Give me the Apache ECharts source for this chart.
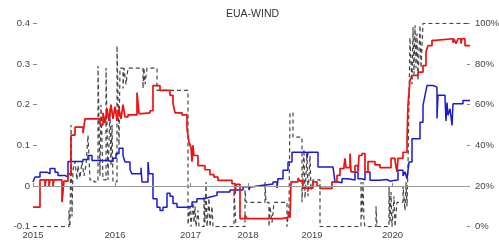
<!DOCTYPE html>
<html>
<head>
<meta charset="utf-8">
<script src="https://cdn.jsdelivr.net/npm/echarts@6/dist/echarts.min.js"></script>
<style>
html,body{margin:0;padding:0;background:#fff;}
#chart{width:499px;height:241px;}
</style>
</head>
<body>
<div id="chart"></div>
<script>
// x = observation index along the sample, steps hold their value until the next point
var yearPos = [0, 82, 157.5, 215, 279, 359.5];
var yearLabels = ['2015', '2016', '2017', '2018', '2019', '2020'];

// EUA-WIND, red line (left axis)
var redSteps = [[0,-0.052],[7,0.015],[12,0.0],[13,0.015],[16,0.0],[17,0.015],[20,0.0],[21,0.015],[29,-0.04],[31,0.012],[35,0.03],[38,0.125],[42,0.145],[50,0.13],[52,0.165],[67,0.15],[70,0.18],[72,0.155],[74,0.19],[76,0.16],[78,0.2],[80,0.165],[82,0.195],[84,0.16],[86,0.19],[88,0.165],[90,0.2],[92,0.17],[95,0.175],[104,0.23],[106,0.178],[109,0.18],[117,0.185],[120,0.247],[127,0.235],[137,0.223],[140,0.203],[142,0.18],[149,0.175],[154,0.14],[156,0.108],[158,0.095],[159,0.06],[160,0.1],[161,0.075],[165,0.05],[172,0.04],[177,0.028],[181,0.022],[185,0.014],[199,0.006],[202,-0.02],[203,0.004],[207,-0.08],[212,-0.072],[214,-0.08],[249,-0.077],[255,-0.075],[256,-0.065],[257,-0.078],[258,0.01],[265,0.02],[267,0.012],[269,0.014],[270,-0.005],[280,0.01],[284,0.0],[287,-0.006],[299,0.01],[304,0.026],[307,0.043],[311,0.05],[312,0.068],[313,0.045],[317,0.08],[318,0.035],[322,0.05],[325,0.035],[326,0.075],[329,0.08],[332,0.034],[335,0.06],[342,0.052],[347,0.045],[358,0.068],[362,0.062],[364,0.035],[365,0.068],[370,0.083],[374,0.108],[375,0.2],[377,0.26],[379,0.272],[385,0.28],[390,0.296],[393,0.33],[395,0.345],[399,0.358],[402,0.362],[420,0.352],[421,0.362],[423,0.35],[425,0.362],[428,0.35],[429,0.362],[432,0.345],[437,0.345]];

// blue line (left axis)
var blueSteps = [[0,0.01],[2,0.022],[7,0.034],[14,0.03],[17,0.043],[22,0.034],[25,0.026],[32,0.022],[35,0.06],[50,0.065],[55,0.075],[59,0.063],[74,0.06],[80,0.068],[83,0.08],[86,0.093],[90,0.075],[92,0.059],[97,0.04],[99,0.03],[108,0.045],[109,0.01],[115,0.059],[116,0.03],[120,-0.031],[124,-0.052],[127,-0.06],[130,-0.052],[134,-0.018],[137,-0.025],[140,-0.043],[144,-0.052],[154,-0.05],[159,-0.039],[164,-0.031],[172,-0.027],[177,-0.023],[184,-0.015],[197,-0.01],[210,-0.002],[216,-0.01],[217,-0.002],[220,0.002],[230,0.005],[240,0.01],[244,-0.005],[245,0.018],[250,0.039],[255,0.059],[259,0.083],[274,0.07],[275,0.083],[285,0.047],[300,0.043],[302,0.01],[305,0.008],[309,0.018],[315,0.015],[322,0.034],[325,0.018],[329,0.015],[332,0.034],[337,0.014],[347,0.016],[354,0.012],[357,0.014],[362,0.015],[365,0.039],[370,0.025],[372,0.035],[374,0.018],[376,0.059],[379,0.116],[387,0.157],[390,0.198],[392,0.223],[394,0.247],[400,0.243],[404,0.166],[405,0.223],[412,0.215],[413,0.16],[414,0.205],[415,0.174],[417,0.19],[419,0.149],[420,0.202],[430,0.21],[437,0.21]];

// dashed line, percent (right axis)
var probSteps = [[0,0],[36,8],[37,0],[38,50],[39,5],[40,28],[42,32],[44,23],[45,30],[47,24],[49,32],[51,25],[53,30],[55,45],[57,23],[61,22],[65,79],[67,25],[68,60],[70,23],[73,78],[75,23],[77,58],[78,30],[79,50],[80,22],[84,89],[86,40],[87,78],[90,68],[91,78],[93,70],[95,78],[110,68],[111,78],[112,70],[114,78],[124,67],[155,1],[157,10],[158,0],[160,12],[161,2],[162,10],[163,0],[165,8],[166,0],[171,15],[172,2],[173,22],[174,0],[176,14],[177,0],[179,10],[180,0],[201,18],[203,0],[212,18],[213,12],[232,22],[233,12],[236,0],[237,10],[239,2],[241,12],[254,0],[256,10],[257,56],[260,44],[269,12],[271,38],[272,14],[274,36],[275,15],[277,35],[278,18],[280,23],[287,0],[328,22],[329,5],[330,22],[331,3],[332,0],[343,10],[344,0],[356,20],[357,2],[358,17],[359,0],[361,15],[362,0],[364,12],[370,20],[372,8],[373,22],[374,10],[375,30],[377,93],[379,70],[380,98],[381,75],[382,99],[383,78],[384,95],[385,72],[387,99],[388,78],[390,100],[437,100]];

var myChart = echarts.init(document.getElementById('chart'));
var txt = {color: '#444', fontSize: 9.5, fontFamily: 'Liberation Sans'};

var option = {
    animation: false,
    title: {
        text: 'EUA-WIND',
        left: 226,
        top: 9,
        padding: 0,
        textStyle: {color: '#333', fontSize: 10.5, fontWeight: 'normal', fontFamily: 'Liberation Sans'}
    },
    grid: {left: 33, right: 29, top: 23.3, bottom: 14.3, outerBoundsMode: 'none'},
    xAxis: {
        type: 'value',
        min: 0,
        max: 437,
        splitLine: {show: false},
        axisLine: {show: false},
        axisTick: {show: true, inside: true, length: 3, customValues: yearPos, lineStyle: {color: '#888'}},
        axisLabel: Object.assign({
            margin: 4,
            customValues: yearPos,
            formatter: function (v) {
                var i = yearPos.indexOf(v);
                return i >= 0 ? yearLabels[i] : '';
            }
        }, txt)
    },
    yAxis: [{
        type: 'value',
        min: -0.1,
        max: 0.4,
        interval: 0.1,
        splitLine: {show: false},
        axisLine: {show: false},
        axisTick: {show: true, inside: true, length: 4, lineStyle: {color: '#888'}},
        axisLabel: Object.assign({
            margin: 3,
            formatter: function (v) { return v === 0 ? '0' : v.toFixed(1); }
        }, txt)
    }, {
        type: 'value',
        min: 0,
        max: 100,
        interval: 20,
        position: 'right',
        splitLine: {show: false},
        axisLine: {show: false},
        axisTick: {show: true, inside: true, length: 3, lineStyle: {color: '#888'}},
        axisLabel: Object.assign({margin: 5, formatter: '{value}%'}, txt)
    }],
    series: [{
        type: 'line',
        yAxisIndex: 1,
        step: 'end',
        symbol: 'none',
        data: probSteps,
        lineStyle: {color: '#444', width: 1.2, type: [4, 3]}
    }, {
        type: 'line',
        step: 'end',
        symbol: 'none',
        data: blueSteps,
        lineStyle: {color: '#1a1ad0', width: 1.5},
        markLine: {
            silent: true,
            symbol: 'none',
            label: {show: false},
            lineStyle: {color: '#999', type: 'solid', width: 1},
            data: [{yAxis: 0}]
        }
    }, {
        type: 'line',
        step: 'end',
        symbol: 'none',
        data: redSteps,
        lineStyle: {color: '#ee1111', width: 1.7}
    }]
};
myChart.setOption(option);
</script>
</body>
</html>
